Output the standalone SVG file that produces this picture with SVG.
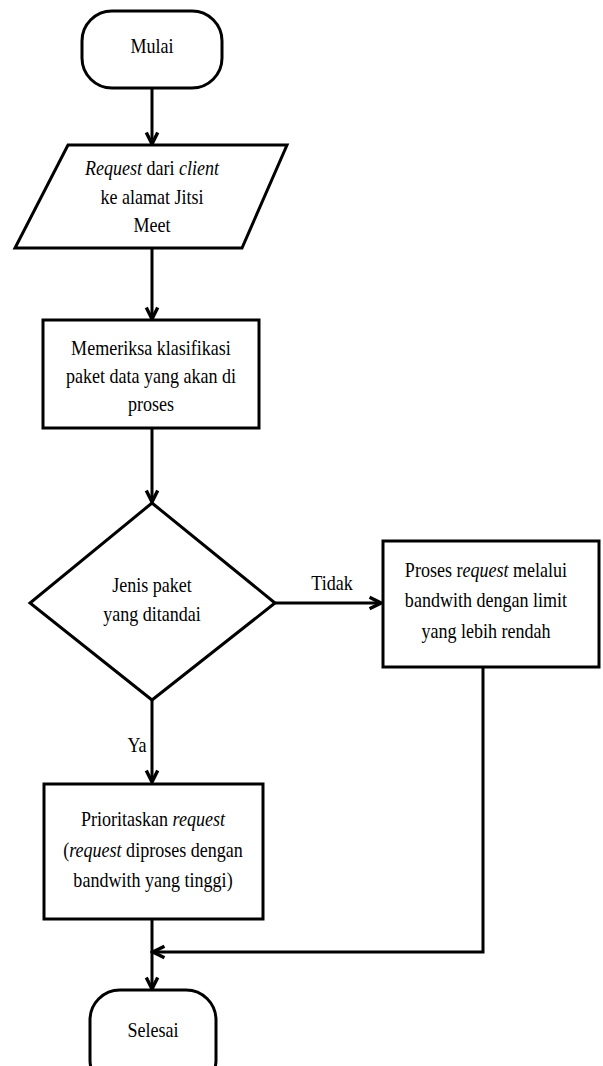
<svg xmlns="http://www.w3.org/2000/svg" width="603" height="1066" viewBox="0 0 603 1066">
<style>
.s{fill:#fff;stroke:#000;stroke-width:3;stroke-linejoin:miter}
.c{fill:none;stroke:#000;stroke-width:3}
text{font-family:"Liberation Serif","Times New Roman",serif;font-size:22px;fill:#000;text-anchor:middle}
.i{font-style:italic}
</style>
<defs>
<marker id="a" markerUnits="userSpaceOnUse" markerWidth="16" markerHeight="16" refX="11" refY="6" orient="auto" viewBox="0 0 14 12">
<path d="M1,1 L11,6 L1,11" fill="none" stroke="#000" stroke-width="3"/>
</marker>
</defs>
<rect width="603" height="1066" fill="#fff"/>
<g id="connectors">
<line class="c" x1="152" y1="88" x2="152" y2="144" marker-end="url(#a)"/>
<line class="c" x1="152" y1="248" x2="152" y2="319" marker-end="url(#a)"/>
<line class="c" x1="152" y1="428" x2="152" y2="502" marker-end="url(#a)"/>
<line class="c" x1="275" y1="603" x2="381" y2="603" marker-end="url(#a)"/>
<line class="c" x1="152" y1="700" x2="152" y2="782" marker-end="url(#a)"/>
<polyline class="c" points="483,667 483,952 153,952" marker-end="url(#a)"/>
<line class="c" x1="152" y1="919" x2="152" y2="989" marker-end="url(#a)"/>
<g transform="translate(332,590) scale(0.82,1)"><text x="0" y="0">Tidak</text></g>
<g transform="translate(137,752) scale(0.82,1)"><text x="0" y="0">Ya</text></g>
</g>
<g id="mulai">
<rect class="s" x="82" y="11" width="140" height="77" rx="30" ry="30"/>
<g transform="translate(152,53) scale(0.82,1)"><text x="0" y="0">Mulai</text></g>
</g>
<g id="request">
<polygon class="s" points="68,145 287,145 242,248 15,248"/>
<g transform="translate(152,175) scale(0.82,1)"><text x="0" y="0"><tspan class="i">Request</tspan> dari <tspan class="i">client</tspan></text></g>
<g transform="translate(152,204) scale(0.82,1)"><text x="0" y="0">ke alamat Jitsi</text></g>
<g transform="translate(152,232) scale(0.82,1)"><text x="0" y="0">Meet</text></g>
</g>
<g id="memeriksa">
<rect class="s" x="43" y="320" width="216" height="108"/>
<g transform="translate(151,355) scale(0.82,1)"><text x="0" y="0">Memeriksa klasifikasi</text></g>
<g transform="translate(151,383) scale(0.82,1)"><text x="0" y="0">paket data yang akan di</text></g>
<g transform="translate(151,411) scale(0.82,1)"><text x="0" y="0">proses</text></g>
</g>
<g id="jenis">
<polygon class="s" points="152,503 275,603 152,700 30,603"/>
<g transform="translate(152,592) scale(0.82,1)"><text x="0" y="0">Jenis paket</text></g>
<g transform="translate(152,621) scale(0.82,1)"><text x="0" y="0">yang ditandai</text></g>
</g>
<g id="proses">
<rect class="s" x="383" y="541" width="216" height="126"/>
<g transform="translate(486,577) scale(0.82,1)"><text x="0" y="0">Proses r<tspan class="i">equest</tspan> melalui</text></g>
<g transform="translate(486,607) scale(0.82,1)"><text x="0" y="0">bandwith dengan limit</text></g>
<g transform="translate(486,638) scale(0.82,1)"><text x="0" y="0">yang lebih rendah</text></g>
</g>
<g id="prioritaskan">
<rect class="s" x="44" y="784" width="219" height="135"/>
<g transform="translate(153,826) scale(0.82,1)"><text x="0" y="0">Prioritaskan <tspan class="i">request</tspan></text></g>
<g transform="translate(153,857) scale(0.82,1)"><text x="0" y="0">(<tspan class="i">request</tspan> diproses dengan</text></g>
<g transform="translate(153,887) scale(0.82,1)"><text x="0" y="0">bandwith yang tinggi)</text></g>
</g>
<g id="selesai">
<rect class="s" x="90" y="990" width="126" height="100" rx="30" ry="30"/>
<g transform="translate(153,1037) scale(0.82,1)"><text x="0" y="0">Selesai</text></g>
</g>
</svg>
